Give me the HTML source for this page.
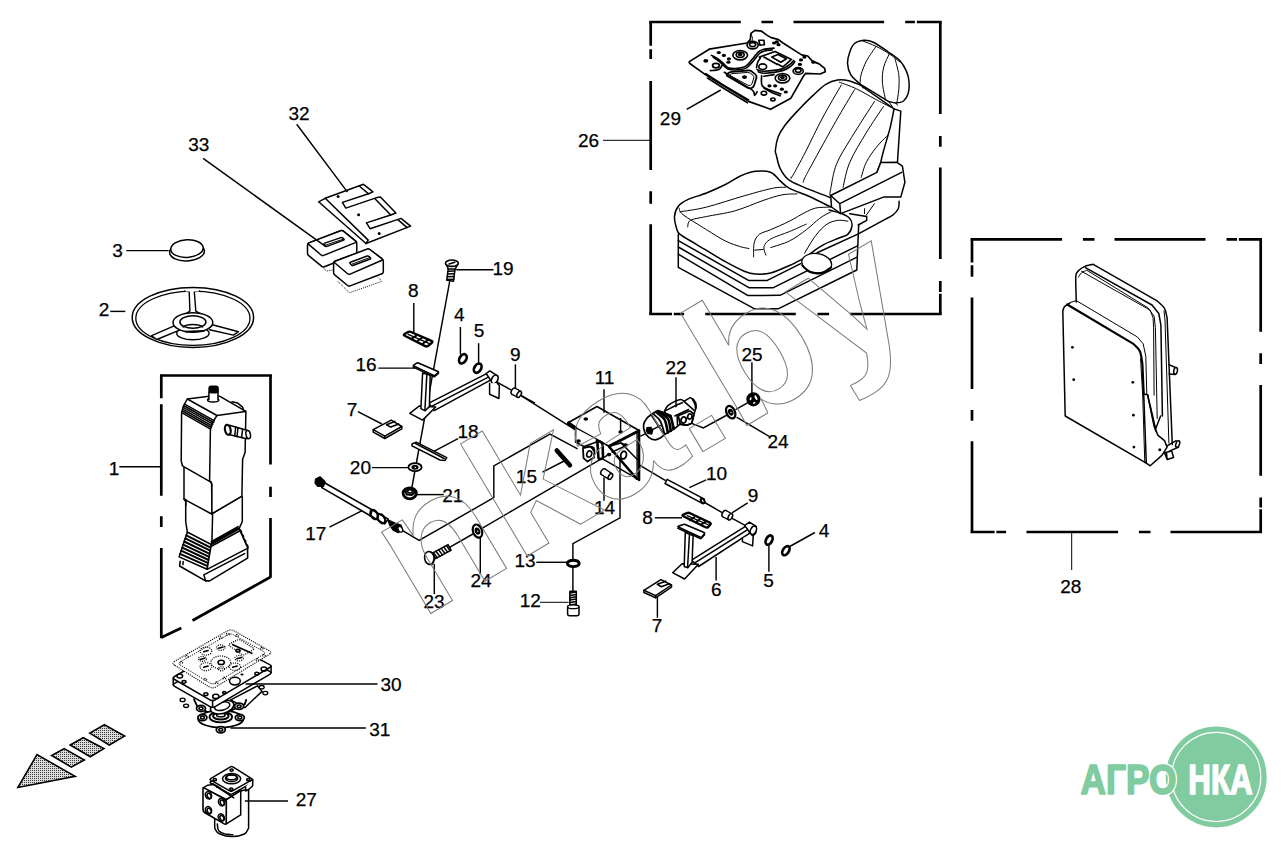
<!DOCTYPE html>
<html><head><meta charset="utf-8"><title>Parts diagram</title>
<style>
html,body{margin:0;padding:0;background:#fff;}
svg{display:block;}
.t{font-family:"Liberation Sans",Arial,Helvetica,sans-serif;font-size:19px;fill:#000;stroke:#000;stroke-width:0.25;}
.k{stroke:#000;fill:none;stroke-width:1.5;stroke-linecap:round;stroke-linejoin:round;}
.kf{stroke:#000;fill:#fff;stroke-width:1.5;stroke-linecap:round;stroke-linejoin:round;}
.l{stroke:#000;fill:none;stroke-width:1.45;}
.b{stroke:#000;fill:none;stroke-width:2.7;}
.lt{stroke:#000;fill:none;stroke-width:1;}
.hv .k,.hv .kf{stroke-width:1.65;}
.th{stroke:#000;fill:none;stroke-width:1.0;stroke-linecap:round;stroke-linejoin:round;}
</style></head>
<body>
<svg width="1287" height="849" viewBox="0 0 1287 849">
<rect width="1287" height="849" fill="#fff"/>
<!-- 10_boxes.svg -->
<g class="b">
<!-- box 26 -->
<path d="M649.4 22.0H740.8M761.5 22.0H773.1M793.5 22.0H884.1M905.2 22.0H914.9M916.8 22.0H941.6"/>
<path d="M650.7 21.2V45.8M650.7 49.2V59.1M650.7 80.9V170.1M650.7 191.2V203.8M650.7 224.2V314.8"/>
<path d="M940.3 21.2V114.1M940.3 135.9V146.8M940.3 167.5V259.1M940.3 280.9V291.9M940.3 293.8V314.8"/>
<path d="M649.4 314.0H672.0M673.8 314.0H684.1M705.2 314.0H795.8M817.5 314.0H829.1M849.9 314.0H941.6"/>
<!-- box 28 -->
<path d="M970.7 239.3H1062.1M1082.9 239.3H1094.5M1114.5 239.3H1205.5M1226.5 239.3H1237.0M1238.8 239.3H1262"/>
<path d="M972.0 238.5V262.5M972.0 265.2V276.8M972.0 297.5V389.1M972.0 409.9V420.8M972.0 441.2V532.8"/>
<path d="M1260.7 238.5V331.8M1260.7 353.2V364.1M1260.7 384.9V475.8M1260.7 497.5V507.4M1260.7 509.2V532.8"/>
<path d="M970.7 532.0H994.6M996.4 532.0H1006.1M1026.5 532.0H1118.1M1138.9 532.0H1150.5M1170.5 532.0H1262"/>
<!-- box 1 -->
<path d="M160 375.5H271.8"/>
<path d="M161.3 374.7V398.3M161.3 404.2V495.8M161.3 516.2V527.1M161.3 548.0V638.3"/>
<path d="M270.5 374.7V464.6M270.5 486.7V497.1M270.5 518.0V577.8"/>
<path d="M161.3 637.5L181.3 628M192.5 620.5L270.5 577"/>
</g>

<!-- 20_seat.svg -->
<g>
<path class="kf" d="M860.1 84.1C858.6 82.5 852.8 78.1 850.7 74.6C848.6 71.2 847.7 67.1 847.5 63.3C847.4 59.6 848.6 55.3 849.8 52C850.9 48.7 852.1 45.5 854.5 43.5C856.8 41.6 860.8 40.6 863.9 40.3C867 40.1 869.2 40.3 873.3 42.2C877.4 44.2 884 49 888.4 52C892.8 55.1 896.7 57.4 899.7 60.5C902.7 63.6 904.7 67.3 906.3 70.9C907.9 74.5 908.8 78.4 909.1 82.2C909.4 85.9 909.1 90.3 908.2 93.5C907.2 96.6 905.5 99.4 903.5 101C901.4 102.6 898.4 102.8 895.9 102.9C893.4 103 889.7 101.6 888.4 101.4L860.1 84.1"/>
<path class="th" d="M876.1 46.4C874.6 48.7 869.2 55.8 866.7 60.5C864.2 65.2 862.2 70.9 861.1 74.6C860 78.4 860.3 81.7 860.1 83.1"/>
<path class="th" d="M889.3 53.9C888.4 56.1 884.8 62.4 883.7 67.1C882.5 71.8 882.1 76.7 882.4 82.2C882.7 87.7 885 97.1 885.6 100.1"/>
<path class="th" d="M895 58.6C895.6 61.3 898.1 69.5 898.8 74.6C899.4 79.8 899.1 85.1 898.8 89.7C898.4 94.4 897.2 100.4 896.9 102.5"/>
<path class="th" d="M863 41.1C865.2 42 871.8 44.2 876.1 46.4C880.5 48.5 885.4 51.3 889.3 53.9C893.3 56.5 898 60.5 899.7 61.8"/>
<path class="th" d="M862.4 85.4L863.1 88.2M865.4 87.1L865.8 89.3M889 101.8L892.5 107M895.9 103.1L897.4 105.2"/>
<path class="k" d="M830 197.5C825.6 195.7 810.5 190.1 803.6 187.1C796.7 184.1 792.5 182.7 788.5 179.6C784.6 176.4 782.1 172.3 780.1 168.3C778 164.2 777.1 158.1 776.3 155.1C775.5 152 775 153 775.4 150C775.7 146.9 776.6 140.9 778.2 136.8C779.8 132.7 781.5 129.9 784.8 125.5C788.1 121.1 793.3 115.5 798 110.4C802.7 105.4 808.3 99.8 813 95.4C817.7 91 822.1 86.6 826.2 84.1C830.3 81.5 833.8 80.5 837.5 79.9C841.3 79.3 845.1 79.8 848.8 80.7C852.6 81.5 858.3 84.3 860.1 85L894 108.9"/>
<path class="k" d="M894 108.9L900.8 111.1L897.5 161.7"/>
<path class="k" d="M894 108.9C893.4 112.1 891.8 120.9 890.1 127.9C888.3 134.9 885 145.2 883.5 151C881.9 156.8 881.1 160.6 880.7 162.5L876.9 172.4"/>
<path class="th" d="M888.4 134.5C886.3 136.7 879.7 143 876 147.7C872.3 152.4 868.6 157.6 866.2 162.5C863.7 167.5 862 174.9 861.2 177.4"/>
<path class="th" d="M841.3 85C838.2 90.5 828.4 106.8 822.5 118C816.5 129.1 810.5 142.1 805.5 151.9C800.5 161.6 794.7 172.2 792.3 176.4C790 180.5 791.5 176.7 791.4 176.7"/>
<path class="th" d="M854.5 89.7C851.3 95 841.9 110.7 835.6 121.7C829.4 132.7 821.8 146.5 816.8 155.6C811.8 164.8 807.8 171.9 805.5 176.4C803.2 180.8 803.6 181.4 803.2 182.4"/>
<path class="th" d="M874.4 101.5C870.5 107.6 857.6 127.4 851.3 137.8C845 148.2 839.9 155.7 836.5 164.2C833 172.7 831.8 183.7 830.7 188.9C829.6 194.1 830 194.4 829.9 195.5"/>
<path class="th" d="M883.5 106.5C880.6 110.9 871.8 123.5 866.2 132.9C860.5 142.2 853.5 153.5 849.7 162.5C845.8 171.6 844.2 183.1 843.1 187.2"/>
<path class="th" d="M839.4 82.2C842.2 83.3 850.4 85.9 856.4 88.8C862.3 91.6 869.6 96.1 875.2 99.1C880.9 102.2 887.8 105.7 890.3 107"/>
<path class="k" d="M780 180.7C778.4 179.3 774.7 173.8 770.6 172.2C766.5 170.7 760.5 170.7 755.5 171.3C750.5 171.9 745.5 173.8 740.4 176C735.4 178.2 731 181.7 725.4 184.5C719.7 187.3 712.8 190.5 706.5 193C700.2 195.5 692.4 197.4 687.7 199.6C683 201.8 680.5 203.3 678.3 206.2C676.1 209 674.8 212.9 674.5 216.5C674.2 220.1 675.4 224.8 676.4 227.8C677.3 230.8 676.7 231.6 680.1 234.4C683.6 237.2 689.6 240.2 697.1 244.8C704.6 249.3 717.5 257.3 725.4 261.7C733.2 266.1 739.2 269.1 744.2 271.2C749.2 273.2 751.1 273.7 755.5 274C759.9 274.3 764.9 274.4 770.6 273C776.2 271.6 783.8 268 789.4 265.5C795.1 263 802 259.2 804.5 258"/>
<path class="k" d="M780 180.7C781.6 182 784.4 185.6 789.4 188.3C794.4 190.9 803.2 193.6 810.1 196.7C817 199.9 827.4 205.4 830.9 207.1"/>
<path class="th" d="M680.1 211.8C684.5 211 695.8 209.8 706.5 207.1C717.2 204.4 733.2 198.9 744.2 195.8C755.2 192.7 765.5 189.7 772.5 188.3C779.4 186.8 783.4 187.5 785.6 187.3"/>
<path class="th" d="M687.7 226.9C688.1 225.8 687.4 222 690.5 220.3C693.6 218.6 699.1 218.1 706.5 216.5C713.9 214.9 725.4 213.5 734.8 210.9C744.2 208.2 755.2 203.2 763 200.5C770.9 197.8 776.2 196 781.9 194.9C787.5 193.8 794.4 194.1 796.9 193.9"/>
<path class="th" d="M679.2 208C679.8 209.1 678.4 211 683 214.6C687.5 218.2 699.5 225.3 706.5 229.7C713.6 234.1 719.7 238.2 725.4 241C731 243.8 736.5 245.4 740.4 246.7C744.4 247.9 747.5 248.2 748.9 248.5"/>
<path class="th" d="M754.6 250.1L763 249.5"/>
<path class="th" d="M753.6 257C753.7 254.7 753.2 246.7 754.2 242.9C755.1 239.1 756.5 236.6 759.3 234.4C762 232.2 765.5 231.9 770.6 229.7C775.6 227.5 783.8 224.1 789.4 221.2C795.1 218.4 800.1 214.9 804.5 212.8C808.9 210.6 811.7 209 815.8 208C819.9 207.1 826.8 207.3 829 207.1"/>
<path class="th" d="M765.9 255.1C765.5 253.7 763.2 249.3 764 246.7C764.8 244 766.3 241.6 770.6 239.1C774.8 236.6 783.4 234.1 789.4 231.6C795.4 229.1 803.5 225.3 806.4 224.1"/>
<path class="th" d="M770.6 247.6C773.7 246.5 783.4 244 789.4 241C795.4 238 801.3 233.5 806.4 229.7C811.4 225.9 815.5 221.4 819.6 218.4C823.6 215.4 829 212.9 830.9 211.8"/>
<path class="k" d="M829 209.9C831.2 210.6 838.7 212.3 842.2 213.7C845.6 215.1 848.1 216.4 849.7 218.4C851.3 220.4 852.3 223.3 852 225.9C851.6 228.6 850.1 232.4 847.8 234.4C845.6 236.5 842.5 236.5 838.4 238.2C834.3 239.9 827.7 242.4 823.3 244.8C818.9 247.1 815.2 250.1 812 252.3C808.9 254.5 805.7 257 804.5 258"/>
<path class="th" d="M804.5 253.3C806.4 250.3 812 240.2 815.8 235.4C819.6 230.5 823.3 226.6 827.1 224.1C830.9 221.5 834.9 220.8 838.4 220.3C841.8 219.8 846.2 221.1 847.8 221.2"/>
<path class="k" d="M678.3 234.4L678.3 267.4L754.6 308.8L778.1 308.8L856.8 270L858.7 224.6"/>
<path class="k" d="M678.3 240.6L748.9 280.6L766.8 280.6L800.7 263.6"/>
<path class="k" d="M678.3 247L748.9 287.7L773.4 287.7L857.4 245.8"/>
<path class="k" d="M678.3 254.2L748 295.6L780 295.3L857.1 257.2"/>
<path class="k" d="M849.7 213.7L866.7 216.5L866.7 220.3L858.2 225"/>
<ellipse class="kf" cx="816.7" cy="263.2" rx="15" ry="9.6" transform="rotate(8 816.7 263.2)" style="stroke-width:1.3"/>
<path class="k" d="M802.2 265.5C803.5 266.6 806.9 270.8 810.1 272.1C813.3 273.4 817.9 273.8 821.4 273C825 272.3 829.6 268.3 831.2 267.4" style="stroke-width:2"/>
<path class="kf" d="M880.7 162.5L896.6 162.2L902.4 166.1L904.9 182.3L900.8 197.1L883.5 197.1L840.6 213.6L831.5 207L830.7 195.5L876.9 172.4Z"/>
<path class="k" d="M830.7 195.5L839.8 203.7L840.6 213.6M839.8 203.7L901.6 172.4"/>
<path class="k" d="M899.1 201.3C899 202.5 899.4 206.3 898.3 208.7C897.2 211 894.6 213.6 892.5 215.3C890.5 217 887.1 218.3 886 218.9L858.4 233.9L817.1 252.8"/>
<path class="th" d="M864.5 208.7L864.5 213.6M874.4 203.7L866.2 215.3"/>
</g>

<!-- 21_plate29.svg -->
<g class="hv">
<path class="kf" d="M689.3 61.6L709.2 49.2L747 43L750.3 39.6L750.9 33.4L754.9 30.4L761.6 31.2L766.1 34.6L770.6 37.4L778.5 39.6L783 43L801.6 54.9L807.8 56L812.3 61.1L819.1 63.9L824.7 68.4L825.3 71.8L820.2 74L805.5 73.4L803.3 76.3L790.9 98.2L770.6 109.3L749.2 101.6L705.3 74.6L689.5 63.3Z" style="stroke-width:1.7"/>
<path class="k" d="M705.8 73.7L724.4 85.8L748.7 99.9M707.5 78L724.4 88.7L747.5 102.7"/>
<ellipse class="k" cx="740.2" cy="55.2" rx="7.3" ry="4.7"/>
<ellipse class="k" cx="740.2" cy="54.7" rx="4" ry="2.6"/>
<ellipse class="k" cx="740.2" cy="54.5" rx="1.6" ry="0.9"/>
<ellipse class="k" cx="782.5" cy="78.2" rx="7.3" ry="4.7"/>
<ellipse class="k" cx="782.5" cy="77.7" rx="4" ry="2.6"/>
<ellipse class="k" cx="782.5" cy="77.5" rx="1.6" ry="0.9"/>
<ellipse class="k" cx="752.6" cy="45.1" rx="5.6" ry="3.7"/>
<ellipse class="k" cx="752.6" cy="44.6" rx="3.1" ry="2"/>
<ellipse class="k" cx="798.2" cy="71" rx="5.1" ry="3.4"/>
<ellipse class="k" cx="798.2" cy="70.5" rx="2.8" ry="1.9"/>
<ellipse class="k" cx="762.7" cy="66.7" rx="3.9" ry="2.8"/>
<ellipse class="k" cx="763.9" cy="93.2" rx="2.7" ry="1.9"/>
<ellipse class="k" cx="772.9" cy="99.4" rx="2.1" ry="1.4"/>
<ellipse class="k" cx="716" cy="65.6" rx="3.4" ry="2.3" style="stroke-width:1.8"/>
<ellipse cx="705.8" cy="60.8" rx="2.5" ry="1.9" fill="#000"/>
<ellipse cx="744.5" cy="77.1" rx="2.5" ry="1.9" fill="#000"/>
<ellipse cx="718.8" cy="52.6" rx="2.1" ry="1.6" fill="#000"/>
<ellipse cx="723.9" cy="55.4" rx="2.1" ry="1.6" fill="#000"/>
<ellipse cx="728.9" cy="58.8" rx="2.1" ry="1.6" fill="#000"/>
<ellipse cx="728.4" cy="62.2" rx="2.1" ry="1.6" fill="#000"/>
<ellipse cx="776.8" cy="41.9" rx="2.1" ry="1.6" fill="#000"/>
<ellipse cx="778.5" cy="44.7" rx="2.1" ry="1.6" fill="#000"/>
<ellipse cx="804.4" cy="57.1" rx="2.1" ry="1.6" fill="#000"/>
<ellipse cx="801" cy="59.9" rx="2.1" ry="1.6" fill="#000"/>
<ellipse cx="813.4" cy="62.2" rx="2.1" ry="1.6" fill="#000"/>
<ellipse cx="769.5" cy="85.8" rx="2.1" ry="1.6" fill="#000"/>
<ellipse cx="775.1" cy="85.8" rx="2.1" ry="1.6" fill="#000"/>
<ellipse cx="781.9" cy="89.2" rx="2.1" ry="1.6" fill="#000"/>
<ellipse cx="785.8" cy="92" rx="2.1" ry="1.6" fill="#000"/>
<ellipse cx="799.9" cy="64.4" rx="2.1" ry="1.6" fill="#000"/>
<ellipse cx="774" cy="43" rx="2.1" ry="1.6" fill="#000"/>
<path class="k" d="M758.8 40.2L763.9 40.2L764.4 44.7L759.9 45.1Z"/>
<path class="k" d="M727.7 76.3Q725.8 75.2 727.5 73.8L727.8 73.5Q729.5 72.1 731.7 71.9L747.9 70.5Q750.1 70.3 751.9 71.6L755.4 74.4Q757.1 75.7 756.4 77.8L754.2 85.1Q753.5 87.2 751.5 88L751.5 88Q749.4 88.8 747.5 87.7Z" style="stroke-width:1.8"/>
<path class="th" d="M731.1 76.1Q729.5 75.2 730.3 74.5L730.3 74.5Q731.2 73.7 733 73.5L747.4 72.5Q749.2 72.3 750.6 73.4L752.9 75.2Q754.3 76.3 753.8 78L752.2 83Q751.7 84.7 750.5 85.3L750.5 85.3Q749.2 85.8 747.6 85Z"/>
<path class="k" d="M759.4 57.1L775.1 51.5L791.5 59.4L783 66.9L777.4 63.9"/>
<path class="k" d="M771.8 57.1L777.9 54.5L786.4 58.8L780.8 62.2Z" style="stroke-width:1.6"/>
<path class="k" d="M763.9 57.1L777.4 64.4"/>
<path class="k" d="M711.5 55.4C712.5 56 715.7 57.5 717.7 58.8C719.6 60.1 721.6 61.8 723.3 63.3C725 64.8 725.6 66.7 727.8 67.6C730.1 68.4 733.8 68.6 736.8 68.4C739.8 68.1 743.2 67.7 745.8 66.1C748.5 64.5 750.5 61.1 752.6 58.8C754.7 56.5 756.4 53.6 758.2 52C760.1 50.4 761.2 49.9 763.9 49.2C766.5 48.6 772.3 48.3 774 48.1"/>
<path class="k" d="M713.2 57.1C714.1 57.8 717 59.6 718.8 61.1C720.6 62.5 722.3 64.4 723.9 65.8C725.5 67.1 726 68.5 728.4 69.2C730.7 69.8 734.9 70.1 738 69.8C741.1 69.6 744.3 69.2 747 67.6C749.6 66 751.8 62.5 753.9 60.2C756.1 57.8 757.7 54.9 759.6 53.4C761.4 51.9 762.9 51.5 765 50.9C767.1 50.3 771.1 50.2 772.3 50"/>
<path class="k" d="M710.3 70.6C711.8 70.4 716.7 70.5 718.8 69.5C720.9 68.5 722.1 65.3 722.7 64.4" style="stroke-width:1.6"/>
<path class="k" d="M757.1 69.5C758.2 69.8 759.7 71.3 763.9 71.2C768 71.1 777.6 70.1 781.9 68.9C786.2 67.8 787.8 65.8 789.8 64.4C791.7 63 793.1 61.1 793.7 60.5"/>
<path class="k" d="M756.5 67.8C756.7 66.9 757 63.9 757.7 62.2C758.3 60.5 760 58.4 760.5 57.7"/>
<path class="k" d="M758.2 71.8C759.4 72 761 73.4 765 73.2C769 73 778.1 71.8 782.5 70.6C786.8 69.4 788.8 67.6 790.9 66.1C793 64.6 794.2 62.4 794.8 61.6"/>
<path class="k" d="M761.6 75.7C761.7 77.4 760.7 83.4 762.2 85.8C763.7 88.3 767.5 89 770.6 90.3C773.7 91.7 779.1 93.3 780.8 93.9"/>
<path class="k" d="M763.9 76.3L774 74.6"/>
<path class="k" d="M763.9 88.1C765.2 88.8 769 91.1 771.8 92.4C774.5 93.6 778.8 95.2 780.2 95.8"/>
<path class="k" d="M724.4 72.3C726.9 73.9 734.4 78.9 739.1 81.9C743.8 84.9 750 88.1 752.6 90.3C755.2 92.6 753.9 95.2 754.6 95.4C755.4 95.6 756.7 92.3 757.1 91.7"/>
<path class="th" d="M750.9 34C751.2 34.8 752.5 37.2 752.6 38.5C752.7 39.8 751.7 41.3 751.5 41.9"/>
</g>

<!-- 22_back28.svg -->
<g>
<path class="kf" d="M1076.3 301.9C1076.2 298.8 1075.5 279.6 1075.8 275.9C1076.1 272.2 1077.8 271.4 1078.9 270.2C1080 269.1 1083.7 266.8 1085.4 266.1C1087 265.4 1092.3 264.5 1093.2 264.3L1156.7 300.6C1158 301.9 1162.8 305.5 1164.5 308.4C1166.2 311.2 1166.6 316.3 1167.1 317.9L1172.3 444.5"/>
<path class="th" d="M1078.4 277.2C1078.9 276.5 1080.1 274 1081.5 272.8C1082.9 271.7 1085.8 270.7 1086.7 270.2L1147.6 307.6L1154.1 316.1L1155.4 327.8L1157.2 418.6"/>
<path class="k" d="M1085.4 267.6L1152 305L1158.8 313.5L1160.9 325.2L1162.4 416"/>
<path class="th" d="M1081.5 271.3L1150.2 310.2L1153.1 317.9L1153.6 327.8L1154.1 395.2"/>
<path class="th" d="M1164 310.9L1165 320L1168.9 443.2"/>
<path class="kf" d="M1143.7 393.9L1146.3 463.2L1065.2 416L1062.8 310.9C1063.1 310.2 1063.5 307.8 1064.6 306.5C1065.8 305.2 1069 303.7 1069.8 303.2"/>
<path class="k" d="M1067.2 304.5L1133.4 343.9C1134.4 345.1 1138.3 347.8 1139.8 351.1C1141.4 354.5 1142 361.9 1142.4 364.1L1143.7 393.9" style="stroke-width:2.2"/>
<path class="th" d="M1069.8 302.6L1076.3 300.6L1137.3 336.9L1143.2 343.9L1145.8 356.3L1146.8 393.9"/>
<path class="th" d="M1140.6 358.9L1142.7 395.2L1144.8 462.7"/>
<path class="k" d="M1143.7 393.9L1147.6 394.7L1154.1 426.3L1158 435.4L1164.5 440.6L1167.1 447.1L1161.9 455.4L1150.2 465.8L1146.3 463.2"/>
<path class="k" d="M1147.6 394.7L1155.4 429.5L1160.6 416M1150.2 405.6L1156.2 431.5"/>
<path class="k" d="M1168.9 364.6L1174.9 367.2M1169.1 374L1175.4 374.5"/>
<ellipse class="k" cx="1175.6" cy="370.9" rx="1.8" ry="3.4" transform="rotate(10 1175.6 370.9)"/>
<path class="k" d="M1167.1 445.8L1176.2 440.6M1169.7 451L1178.7 447.1"/>
<ellipse class="k" cx="1177.7" cy="444" rx="1.8" ry="3.4" transform="rotate(20 1177.7 444)"/>
<path class="k" d="M1164.5 452.8L1171.7 451L1173.6 457.5L1167.1 459.5ZM1167.1 459.5L1166.6 453.6"/>
<circle cx="1072.4" cy="347.3" r="1.4" fill="#000"/>
<circle cx="1073.7" cy="379.7" r="1.4" fill="#000"/>
<circle cx="1132.8" cy="382.3" r="1.4" fill="#000"/>
<circle cx="1133.4" cy="415.2" r="1.4" fill="#000"/>
<circle cx="1133.9" cy="447.1" r="1.4" fill="#000"/>
<circle cx="1159.8" cy="449.7" r="1.5" fill="#000"/>
</g>

<!-- 23_col1.svg -->
<g>
<path class="kf" d="M185.7 499.2L185.7 521.5L187.3 532.2L211.3 544.6L239.3 528.1L242.3 521.5L242.3 496.7"/>
<path class="k" d="M212.6 514.5L211.9 543.2"/>
<path class="kf" d="M187.3 532.2L211.3 544.6L207.1 569.3L179.1 556.9Z"/>
<path class="k" d="M186.3 535.3L210.7 547.6" style="stroke-width:2.0"/>
<path class="k" d="M185.3 538.4L210.2 550.7" style="stroke-width:2.0"/>
<path class="k" d="M184.2 541.5L209.7 553.8" style="stroke-width:2.0"/>
<path class="k" d="M183.2 544.6L209.2 556.9" style="stroke-width:2.0"/>
<path class="k" d="M182.2 547.6L208.7 560" style="stroke-width:2.0"/>
<path class="k" d="M181.1 550.7L208.2 563.1" style="stroke-width:2.0"/>
<path class="k" d="M180.1 553.8L207.6 566.2" style="stroke-width:2.0"/>
<path class="kf" d="M211.3 544.6L239.3 528.9L247.9 548.2L207.1 569.3Z"/>
<path class="k" d="M211.3 541.6L238 526.7M211.3 543.2L239 528.1M210.9 546.5L240 530.7" style="stroke-width:1.6"/>
<path class="k" d="M239.3 528.9L241.4 531.3L241.5 533.7L243.5 536.1L243.6 538.5L245.7 540.9L245.7 543.4L247.8 545.8L247.9 548.2"/>
<path class="k" d="M180.2 561.4L179.6 566L205.5 580.9L209.6 580.9L247.6 558.1L247.6 549.5" style="stroke-width:1.6"/>
<path class="k" d="M203.8 574.6L205.5 580.5M204.3 574.6L244.6 553.6M183.2 561.4L182.9 564.7"/>
<path class="k" d="M184 467.5L184 499.1L185.8 501.6L185.8 505.4"/>
<path class="k" d="M184 499.1L211.6 514L241.9 496.2"/>
<path class="k" d="M211.6 485.6L212.1 514"/>
<path class="kf" d="M187.3 399L207.1 396.5L219.5 396.2L245.9 411.4L245.1 452.6L242.6 459.2L241.9 496.2L211.9 513.7L211.9 485.6L211.3 482.3L182.4 465.8L181.2 460.9L181.6 413L183.2 406.4Z"/>
<path class="k" d="M187.3 399L217 415.5L245.6 411.4"/>
<path class="k" d="M217 415.5L212.1 422.9L210.4 429.5L209.6 480.7L211.3 482.3L211.9 485.6"/>
<path class="k" d="M185.1 404.3L214.5 420.8" style="stroke-width:1.5"/>
<path class="k" d="M184.4 406L213.7 422.5" style="stroke-width:1.5"/>
<path class="k" d="M183.7 407.7L212.9 424.2" style="stroke-width:1.5"/>
<path class="k" d="M183.1 409.4L212.1 425.9" style="stroke-width:1.5"/>
<path class="k" d="M182.4 411L211.4 427.5" style="stroke-width:1.5"/>
<path class="k" d="M181.7 412.6L210.6 429.1" style="stroke-width:1.5"/>
<path class="k" d="M231.9 401.8L237.7 403.1L242.6 407.2L243.4 410"/>
<ellipse class="kf" cx="213.2" cy="400.1" rx="5.6" ry="2"/>
<path class="kf" d="M208.9 399.5L208.9 391.9L218 391.9L218 399.5"/>
<rect x="208.3" y="385.6" width="10.6" height="8" rx="3" fill="#000"/>
<path class="kf" d="M229.4 425.2L247.6 430.5L248.9 434.5L246.9 438.7L228.7 434.5Z"/>
<ellipse class="kf" cx="227.8" cy="429.8" rx="2.8" ry="5" transform="rotate(-12 227.8 429.8)" style="stroke-width:2.2"/>
<ellipse class="kf" cx="248.2" cy="434.6" rx="2.2" ry="4.1" transform="rotate(-12 248.2 434.6)"/>
<path class="k" d="M235.7 427L234.7 436.1M238 427.9L237 436.8M242.6 429.2L241.6 437.8"/>
</g>

<!-- 24_p30.svg -->
<g>
<path class="kf" d="M230.7 699.9L257.5 685.8L262 691.4L244.8 707.7Z"/>
<path class="k" d="M193.9 699.2L198.2 708.4L216.5 715.4L226.4 712.6L244.8 704.1L246.2 699.9" style="stroke-width:1.8"/>
<ellipse class="kf" cx="220.8" cy="719" rx="22.6" ry="8.5" style="stroke-width:1.8"/>
<ellipse class="kf" cx="202.4" cy="717.6" rx="4.5" ry="3.1" style="stroke-width:1.8"/>
<ellipse class="k" cx="202.4" cy="717.6" rx="2" ry="1.3"/>
<ellipse class="kf" cx="239.8" cy="717.6" rx="4.5" ry="3.1" style="stroke-width:1.8"/>
<ellipse class="k" cx="239.8" cy="717.6" rx="2" ry="1.3"/>
<ellipse class="kf" cx="220.8" cy="729.8" rx="4.5" ry="3.1" style="stroke-width:1.8"/>
<ellipse class="k" cx="220.8" cy="729.8" rx="2" ry="1.3"/>
<ellipse class="kf" cx="239.1" cy="706.2" rx="4.5" ry="3.1" style="stroke-width:1.8"/>
<ellipse class="k" cx="239.1" cy="706.2" rx="2" ry="1.3"/>
<ellipse class="kf" cx="201" cy="708.4" rx="4.5" ry="3.1" style="stroke-width:1.8"/>
<ellipse class="k" cx="201" cy="708.4" rx="2" ry="1.3"/>
<ellipse class="kf" cx="220.8" cy="717" rx="11.3" ry="5.4" style="stroke-width:1.8"/>
<ellipse class="k" cx="220.8" cy="716" rx="7.8" ry="3.5" style="stroke-width:2"/>
<ellipse class="k" cx="220.8" cy="715" rx="4.2" ry="1.8" style="stroke-width:1.6"/>
<ellipse class="kf" cx="222.2" cy="707" rx="12" ry="6.4" transform="rotate(-15 222.2 707)" style="stroke-width:1.6"/>
<ellipse class="k" cx="222.2" cy="706.2" rx="7.8" ry="4" transform="rotate(-15 222.2 706.2)"/>
<path class="kf" d="M174.6 686.3Q172 684.8 174.6 683.3L228.1 652.4Q230.7 650.9 233.3 652.3L269.7 671.4Q272.3 672.8 269.8 674.3L215.1 706.6Q212.6 708.1 210 706.6Z" style="stroke-width:1.5"/>
<path class="kf" d="M174.6 679.5Q172 678 174.6 676.5L228.1 645.6Q230.7 644.1 233.3 645.5L269.7 664.6Q272.3 666 269.8 667.5L215.1 699.8Q212.6 701.3 210 699.8Z" style="stroke-width:1.5"/>
<path class="k" d="M173.2 678L173.2 684.8"/>
<path class="k" d="M271.1 666L271.1 672.8"/>
<path class="k" d="M212.6 700.3L212.6 707.1"/>
<ellipse class="k" cx="179.8" cy="675.9" rx="2.8" ry="2"/>
<ellipse class="k" cx="184" cy="681.8" rx="2" ry="1.4"/>
<ellipse class="k" cx="205.9" cy="694.2" rx="2" ry="1.4"/>
<ellipse class="k" cx="215.8" cy="696.4" rx="3.1" ry="2.1"/>
<ellipse class="k" cx="224.3" cy="692.5" rx="1.7" ry="1.1"/>
<ellipse class="k" cx="234.9" cy="681.1" rx="5.4" ry="3.8"/>
<ellipse class="k" cx="256.8" cy="673.7" rx="2" ry="1.4"/>
<ellipse class="k" cx="263.9" cy="669.1" rx="2.8" ry="2.1"/>
<ellipse cx="242" cy="674.5" rx="1.6" ry="1" fill="#000"/>
<ellipse class="kf" cx="182.6" cy="699.9" rx="2.5" ry="1.7" style="stroke-width:1.3"/>
<ellipse class="kf" cx="186.1" cy="705.8" rx="2.5" ry="1.7" style="stroke-width:1.3"/>
<ellipse class="kf" cx="261.7" cy="687.2" rx="2.5" ry="1.7" style="stroke-width:1.3"/>
<ellipse class="kf" cx="265.3" cy="693.1" rx="2.5" ry="1.7" style="stroke-width:1.3"/>
<path d="M174.7 665.3Q171.3 663.2 174.8 661.2L227.2 631Q230.7 629 234.1 630.9L268.9 650.6Q272.3 652.6 268.9 654.6L216 686.8Q212.6 688.9 209.2 686.8Z" fill="#fff" stroke="#000" stroke-width="1.15" stroke-dasharray="1.1 1.1"/>
<path d="M180.2 665Q177.7 663.4 180.3 661.9L228 634.7Q230.7 633.2 233.3 634.7L263.4 651.4Q266 652.8 263.4 654.4L215.1 683.1Q212.6 684.6 210 683.1Z" fill="none" stroke="#000" stroke-width="1" stroke-dasharray="1.1 1.1"/>
<ellipse cx="205.9" cy="651.1" rx="5.9" ry="4" fill="none" stroke="#000" stroke-width="1.15" stroke-dasharray="1.1 1.1"/>
<ellipse cx="220.8" cy="647.6" rx="4.2" ry="2.8" fill="none" stroke="#000" stroke-width="1.15" stroke-dasharray="1.1 1.1"/>
<ellipse cx="202.4" cy="658.9" rx="4" ry="2.5" fill="none" stroke="#000" stroke-width="1.15" stroke-dasharray="1.1 1.1"/>
<ellipse cx="220.8" cy="662.4" rx="9.9" ry="6.4" fill="none" stroke="#000" stroke-width="1.15" stroke-dasharray="1.1 1.1"/>
<ellipse cx="205.9" cy="666.7" rx="5.9" ry="4" fill="none" stroke="#000" stroke-width="1.15" stroke-dasharray="1.1 1.1"/>
<ellipse cx="234.9" cy="666.7" rx="5.7" ry="3.7" fill="none" stroke="#000" stroke-width="1.15" stroke-dasharray="1.1 1.1"/>
<ellipse cx="239.1" cy="658.2" rx="4.2" ry="2.8" fill="none" stroke="#000" stroke-width="1.15" stroke-dasharray="1.1 1.1"/>
<ellipse cx="221.5" cy="668.8" rx="3.1" ry="2.1" fill="none" stroke="#000" stroke-width="1.15" stroke-dasharray="1.1 1.1"/>
<ellipse cx="181.2" cy="662.4" rx="1.4" ry="1" fill="none" stroke="#000" stroke-width="1.15" stroke-dasharray="1.1 1.1"/>
<ellipse cx="186.8" cy="656.4" rx="1.4" ry="1" fill="none" stroke="#000" stroke-width="1.15" stroke-dasharray="1.1 1.1"/>
<ellipse cx="227.8" cy="634.2" rx="1.7" ry="1.1" fill="none" stroke="#000" stroke-width="1.15" stroke-dasharray="1.1 1.1"/>
<ellipse cx="220.8" cy="637.7" rx="1.4" ry="1" fill="none" stroke="#000" stroke-width="1.15" stroke-dasharray="1.1 1.1"/>
<ellipse cx="237" cy="635.6" rx="1.4" ry="1" fill="none" stroke="#000" stroke-width="1.15" stroke-dasharray="1.1 1.1"/>
<ellipse cx="261.7" cy="648.3" rx="1.4" ry="1" fill="none" stroke="#000" stroke-width="1.15" stroke-dasharray="1.1 1.1"/>
<ellipse cx="263.9" cy="655.4" rx="1.4" ry="1" fill="none" stroke="#000" stroke-width="1.15" stroke-dasharray="1.1 1.1"/>
<ellipse cx="257.5" cy="659.6" rx="1.4" ry="1" fill="none" stroke="#000" stroke-width="1.15" stroke-dasharray="1.1 1.1"/>
<ellipse cx="205.2" cy="679.4" rx="1.4" ry="1" fill="none" stroke="#000" stroke-width="1.15" stroke-dasharray="1.1 1.1"/>
<ellipse cx="216.5" cy="682.9" rx="1.4" ry="1" fill="none" stroke="#000" stroke-width="1.15" stroke-dasharray="1.1 1.1"/>
<ellipse cx="224.3" cy="678" rx="1.4" ry="1" fill="none" stroke="#000" stroke-width="1.15" stroke-dasharray="1.1 1.1"/>
<ellipse class="k" cx="221.2" cy="662.4" rx="3.1" ry="2.1" style="stroke-width:1.5"/>
<path d="M229.5 645.9Q227.8 644.8 229.6 643.9L237.3 640Q239.1 639.1 240.8 640.2L253 647.9Q254.7 649 252.9 650L245.1 654.4Q243.4 655.4 241.7 654.3Z" fill="none" stroke="#000" stroke-width="1.15" stroke-dasharray="1.1 1.1"/>
<path class="k" d="M232.8 644.8L251.8 653.3" style="stroke-width:1.8"/>
<ellipse class="k" cx="238" cy="650.7" rx="2" ry="1.3" style="stroke-width:1.6"/>
<path class="k" d="M203.7 651.7L208.1 650.5" style="stroke-width:1.6"/>
<path class="k" d="M218.6 648.2L223 647" style="stroke-width:1.6"/>
<path class="k" d="M200.2 659.5L204.6 658.3" style="stroke-width:1.6"/>
<path class="k" d="M203.7 667.3L208.1 666.1" style="stroke-width:1.6"/>
<path class="k" d="M232.7 667.3L237.1 666.1" style="stroke-width:1.6"/>
<path class="k" d="M236.9 658.8L241.3 657.6" style="stroke-width:1.6"/>
</g>

<!-- 25_p27.svg -->
<g>
<path class="kf" d="M248.6 788.9L248.6 828.1C247.9 829.1 247.2 832.6 244.4 834C241.5 835.4 235.7 836.6 231.6 836.6C227.6 836.6 222.7 835.2 220 834C217.2 832.7 216.1 831.4 215.2 829.2C214.3 827 214.8 822.1 214.7 820.7L214.7 797.4Z"/>
<path class="k" d="M217.3 823.9C217.6 825.1 217.4 829.1 218.7 830.8C220 832.5 223 833.3 225.3 834C227.6 834.6 231.5 834.6 232.7 834.7"/>
<path class="kf" d="M226.3 799.5L240.7 790L240.7 814.9L226.3 823.9Z"/>
<path class="kf" d="M203 787.9L207.8 785.2L220 783.6L240.7 790.5L226.3 799.5Z"/>
<path class="k" d="M216.3 786.3L233.8 797.9"/>
<path class="kf" d="M203 789.5Q203 787.3 205 788.4L224.4 799Q226.3 800.1 226.3 802.3L226.2 822.8Q226.1 825 224.2 823.9L204.9 812.8Q203 811.7 203 809.5Z" style="stroke-width:1.6"/>
<ellipse class="k" cx="208.5" cy="795.3" rx="3" ry="3.8" transform="rotate(-25 208.5 795.3)" style="stroke-width:1.5"/>
<ellipse class="k" cx="209.1" cy="795.8" rx="1.8" ry="2.7" transform="rotate(-25 209.1 795.8)"/>
<ellipse class="k" cx="221.6" cy="802.2" rx="3" ry="3.8" transform="rotate(-25 221.6 802.2)" style="stroke-width:1.5"/>
<ellipse class="k" cx="222.2" cy="802.7" rx="1.8" ry="2.7" transform="rotate(-25 222.2 802.7)"/>
<ellipse class="k" cx="208.5" cy="810.3" rx="3" ry="3.8" transform="rotate(-25 208.5 810.3)" style="stroke-width:1.5"/>
<ellipse class="k" cx="209.1" cy="810.8" rx="1.8" ry="2.7" transform="rotate(-25 209.1 810.8)"/>
<ellipse class="k" cx="221.3" cy="817.5" rx="3" ry="3.8" transform="rotate(-25 221.3 817.5)" style="stroke-width:1.5"/>
<ellipse class="k" cx="221.9" cy="818" rx="1.8" ry="2.7" transform="rotate(-25 221.9 818)"/>
<path class="kf" d="M230.4 769.9Q231.6 769.1 232.9 769.9L251.6 781.6Q252.8 782.4 251.5 783.1L232.4 793.8Q231.1 794.5 229.8 793.8L210.7 783.1Q209.4 782.4 210.7 781.6Z"/>
<path class="kf" d="M252.8 779.6L252.6 786L248.6 789.5L245.6 791L245.6 786.8"/>
<path class="kf" d="M230.4 766.9Q231.6 766.1 232.9 766.9L251.6 778.6Q252.8 779.4 251.5 780.1L232.4 790.8Q231.1 791.6 229.8 790.8L210.7 780.1Q209.4 779.4 210.7 778.6Z" style="stroke-width:1.5"/>
<ellipse class="k" cx="231.6" cy="778.7" rx="9.1" ry="5.1" style="stroke-width:1.5"/>
<ellipse class="k" cx="231.6" cy="778.3" rx="6.1" ry="3.3" style="stroke-width:1.5"/>
<ellipse class="k" cx="231.6" cy="777.3" rx="5.1" ry="2.5"/>
<ellipse class="k" cx="231.6" cy="770.1" rx="1.6" ry="1.1"/>
<ellipse class="k" cx="214.9" cy="779.7" rx="1.6" ry="1.1"/>
<ellipse class="k" cx="248.2" cy="779.7" rx="1.6" ry="1.1"/>
<ellipse class="k" cx="231.2" cy="789.1" rx="1.6" ry="1.1"/>
<path class="k" d="M212.6 783.6L220 787.9M216.8 785.7L216.8 787.3"/>
</g>

<!-- 26_wheel.svg -->
<g>
<ellipse class="kf" cx="187" cy="251.8" rx="17.4" ry="9.1" transform="rotate(-3 187 251.8)"/>
<ellipse class="kf" cx="187" cy="248.6" rx="16.2" ry="8.8" transform="rotate(-3 187 248.6)"/>
<ellipse class="k" cx="192.9" cy="317.4" rx="60.7" ry="30" style="stroke-width:1.5"/>
<ellipse class="k" cx="192.9" cy="318.2" rx="57.1" ry="27.1" style="stroke-width:1.3"/>
<ellipse class="kf" cx="192.9" cy="333.2" rx="16.2" ry="6.6" style="stroke-width:1.4"/>
<path class="kf" d="M184.8 291L189.2 291.5L189.9 311.1L184.8 314.8L202.4 314.8L195.8 311.1L194.3 291.5L199.5 291" style="stroke-width:1.4"/>
<path class="kf" d="M175.9 325.1L151.7 335.7L156.8 339.5L178.9 330.3" style="stroke-width:1.4"/>
<path class="kf" d="M212.4 324.8L238.5 331.7L233.4 335.1L209.5 329.8" style="stroke-width:1.4"/>
<path class="k" d="M186 290.7L198.3 290.7" style="stroke:#fff;stroke-width:1.6"/>
<ellipse class="kf" cx="192.9" cy="322.5" rx="19.9" ry="9.7" style="stroke-width:1.5"/>
<ellipse class="k" cx="192.9" cy="322" rx="13" ry="6.2" style="stroke-width:1.5"/>
<path class="k" d="M183.2 326.9A10.3 3.5 0 0 1 202.6 326.9"/>
<path class="k" d="M186.1 331.7L204.1 330.9" style="stroke-width:1.8"/>
</g>

<!-- 27_p32.svg -->
<g>
<path class="kf" d="M318.6 201.8L325.2 198.3L363.5 184.3L373 191.9L368.6 193.8L342.4 202.4L345.8 208.1L377.4 197.4L380.4 197.1L395.9 213L390.7 215L366.4 222.9L370.1 228.7L401 218.4L410.6 226.1L366 243.5Z" style="stroke-width:1.5"/>
<path class="k" d="M325.2 198.3L368.2 240.1M359.8 186.5L368.6 193.8M375.2 199L390.7 215M398.1 219.9L407.2 227.6M366 243.5L368.2 240.1"/>
<circle cx="338.1" cy="196.6" r="1.5" fill="#000"/>
<circle cx="358.6" cy="214.8" r="1.5" fill="#000"/>
<circle cx="379.2" cy="233.5" r="1.5" fill="#000"/>
<path class="kf" d="M308.9 242.9Q307.5 243.5 307.5 245L307.5 253.3Q307.5 254.8 308.7 255.7L321.8 266.4Q323 267.3 324.4 266.8L355.4 254.3Q356.8 253.8 356.8 252.3L356.8 243.5Q356.8 242 355.7 241.1L343.3 231.1Q342.1 230.2 340.7 230.7Z" style="stroke-width:1.5"/>
<path class="kf" d="M308.7 244.4Q307.5 243.5 308.9 242.9L340.7 230.7Q342.1 230.2 343.3 231.1L355.7 241.1Q356.8 242 355.4 242.6L323.6 255.4Q322.2 256 321.1 255Z" style="stroke-width:1.5"/>
<path class="k" d="M324.3 244.3Q323.7 243.5 324.7 243.1L340.9 237.6Q341.8 237.3 342.6 237.9L343.9 239.1Q344.6 239.8 343.7 240.1L327.1 246.4Q326.2 246.7 325.6 245.9Z" style="stroke-width:1.5"/>
<path class="th" d="M326.2 244.9L342.9 239.3"/>
<path d="M323.7 268.5L326.7 271L332.5 270" fill="none" stroke="#000" stroke-width="1" stroke-dasharray="1 1.2"/>
<path d="M337.7 281.3L349.5 292.8L381.9 281.3L377.4 276.6" fill="none" stroke="#000" stroke-width="1" stroke-dasharray="1 1.2"/>
<path class="kf" d="M335 261.3Q333.6 261.9 333.6 263.4L333.6 272.4Q333.6 273.9 334.7 274.9L347.6 285.5Q348.7 286.5 350.1 285.9L381.9 273.7Q383.3 273.2 383.3 271.7L383.3 261.2Q383.3 259.7 382.1 258.8L369.8 249.5Q368.6 248.6 367.2 249.1Z" style="stroke-width:1.5"/>
<path class="kf" d="M334.7 262.8Q333.6 261.9 335 261.3L367.2 249.1Q368.6 248.6 369.8 249.5L382.1 258.8Q383.3 259.7 382 260.3L350.1 274.1Q348.7 274.7 347.6 273.7Z" style="stroke-width:1.5"/>
<path class="k" d="M350.1 263.4Q349.5 262.6 350.4 262.3L367.2 256Q368.2 255.7 368.9 256.4L370.4 257.9Q371.1 258.6 370.2 259L352.9 265.5Q352 265.8 351.4 265.1Z" style="stroke-width:1.5"/>
<path class="th" d="M352.1 264.1L369.4 257.7"/>
</g>

<!-- 30_center.svg -->
<g>
<path class="l" d="M449.7 281.4L411.6 489"/>
<path class="l" d="M497.9 382.6L535 403.2"/>
<path class="l" d="M521.4 395.9L575.4 429.8"/>
<path class="k" d="M568 423.5L576.5 429.8" style="stroke-width:2.2"/>
<path class="l" d="M402.6 530.6L419.1 540.3L493.8 497.7L493.8 465.9L550 434.1L577.6 448.9"/>
<path class="l" d="M449.5 547.4L472.9 534"/>
<path class="l" d="M482 528.3L607.3 455.3"/>
<path class="l" d="M572.9 591.3L572.9 543.6L620 517.9L620 454.2"/>
<path class="l" d="M639.1 464.8L665.6 480.7"/>
<path class="l" d="M703.8 502L723.9 513.6"/>
<path class="l" d="M731.3 517.9L745.1 525.3"/>
<path class="l" d="M638 436.2L641.1 435.9L645.7 433.6"/>
<path class="l" d="M691 423.1L703.4 427.9L727.1 415"/>
<path class="l" d="M735.6 409.7L748.3 402.3"/>
<path class="kf" d="M448.5 266.6L446.8 280.3L453.5 281.2L455.2 267.4Z"/>
<path class="k" d="M448.2 268.4L455.1 268.3M447.9 271.2L454.8 271M447.6 273.9L454.4 273.8M447.2 276.7L454.1 276.5M446.9 279.5L453.8 279.3" style="stroke-width:1.5"/>
<path class="kf" d="M445.5 263.2L448.5 269.1L455.2 269.1L458.2 263.2Z"/>
<ellipse class="kf" cx="451.9" cy="263.2" rx="6.4" ry="3.2" style="stroke-width:1.6"/>
<path class="k" d="M449.1 264L454.8 262.3"/>
<path class="kf" d="M404.7 335.7Q403.1 334.9 404.6 334L407.9 332.1Q409.4 331.2 411.1 332L431.5 340.9Q433.2 341.6 431.8 342.8L428.2 345.8Q426.8 346.9 425.2 346.1Z" style="stroke-width:2.4"/>
<path class="k" d="M411.8 338.6L416 335.8" style="stroke-width:2.0"/>
<path class="k" d="M417.4 341L421.6 338.2" style="stroke-width:2.0"/>
<path class="k" d="M423 343.5L427.2 340.7" style="stroke-width:2.0"/>
<path class="k" d="M408.2 334.4L430 343.8" style="stroke-width:1.3"/>
<ellipse class="kf" cx="462.9" cy="358.8" rx="3.3" ry="5" transform="rotate(32 462.9 358.8)" style="stroke-width:2.7"/>
<ellipse class="kf" cx="477.7" cy="368.2" rx="3.3" ry="5" transform="rotate(32 477.7 368.2)" style="stroke-width:2.7"/>
<ellipse class="kf" cx="513.4" cy="391.1" rx="1.9" ry="3.4" transform="rotate(29.1 513.4 391.1)"/>
<path class="kf" d="M511.7 394L517.4 397.2L520.7 391.3L515 388.1"/>
<path d="M512.1 393.4L517.8 396.6L520.4 391.9L514.7 388.7Z" fill="#fff" stroke="none"/>
<ellipse class="kf" cx="519.1" cy="394.3" rx="1.9" ry="3.4" transform="rotate(29.1 519.1 394.3)"/>
<path class="kf" d="M428.9 403.2L486.6 373.7L490.9 379.8L434.2 410.6Z"/>
<path class="k" d="M431.5 406.3L488.8 376.9"/>
<path class="kf" d="M486.2 373.5L489.8 370.9L497.9 376.2L497.2 382.6L493.9 385.1Z"/>
<ellipse class="kf" cx="494.7" cy="379.4" rx="3" ry="4.6" transform="rotate(25 494.7 379.4)" style="stroke-width:1.6"/>
<path class="kf" d="M489.6 383.2L489.6 394.3L498.9 398.5L499.4 385.8L497.2 383"/>
<path class="kf" d="M409.8 413.3L419.4 405.9L435.7 407L422.6 420.1Z"/>
<path class="kf" d="M422.6 373L420.9 408.7L425.1 410.8L429.4 406.6L430.2 375.2Z"/>
<path class="k" d="M426.8 375.2L424.9 410.2"/>
<path class="kf" d="M413.7 366Q412.8 365.6 413.7 365.1L416.6 363.2Q417.5 362.6 418.4 363L438 371.6Q438.9 372 438.2 372.6L435.2 375.1Q434.5 375.8 433.6 375.4Z" style="stroke-width:1.6"/>
<path class="k" d="M413.2 367.1L434.2 376.9L438.5 373.5"/>
<path class="kf" d="M373.2 429.7L373.2 432.1L384.8 438.5L401.8 428.9L401.8 426.5"/>
<path class="kf" d="M373.2 429.7L391.2 420.1L401.8 426.5L384.8 436.1Z"/>
<path class="k" d="M384.8 436.1L384.8 438.5"/>
<path class="k" d="M394.8 421.4L386.5 424.8L390.8 427.1L398.8 424" style="stroke-width:1.6"/>
<path class="kf" d="M643.9 590.3L643.9 592.5L655.6 597.8L671.5 587.2L671.5 585"/>
<path class="kf" d="M643.9 590.3L660.9 579.7L671.5 585L655.6 595.6Z"/>
<path class="k" d="M655.6 595.6L655.6 597.8"/>
<path class="k" d="M665.6 581.2L657.3 584.3L661.3 586.7L669.4 583.7" style="stroke-width:1.6"/>
<path class="kf" d="M412 443.9L416.2 442.2L446.8 457.7L445.1 460.4L440 460L412 445.8Z" style="stroke-width:1.5"/>
<path class="k" d="M415.6 443.5L444.2 458.5"/>
<ellipse class="kf" cx="415" cy="467.2" rx="6.6" ry="4" style="stroke-width:1.8"/>
<ellipse class="k" cx="415" cy="467.2" rx="2.8" ry="1.7" style="stroke-width:1.6;fill:#000"/>
<circle cx="415.3" cy="467.4" r="0.7" fill="#fff"/>
<ellipse class="kf" cx="409.7" cy="493.3" rx="6.6" ry="5.5" style="stroke-width:2.8"/>
<path class="k" d="M405.2 490.3L408.2 488.3L413.2 488.8L414.7 492.3L411.7 494.8L406.7 494.3Z" style="stroke-width:2.2"/>
<ellipse class="k" cx="410" cy="491.3" rx="2.4" ry="1.6"/>
<path class="kf" d="M324.5 482.8L372.3 510L370.3 515.7L321.8 487.6Z" style="stroke-width:1.6"/>
<path d="M315.5 479L320 476.8L325 481.5L323.5 486.5L318 486.5L315 483Z" fill="#000" stroke="#000" stroke-width="1.2" stroke-linejoin="round"/>
<path class="kf" d="M372.3 510L388.3 519.1L384.6 523.9L370.3 515.7Z" style="stroke-width:1.6"/>
<ellipse class="k" cx="374.1" cy="514.5" rx="3.2" ry="5" transform="rotate(-30 374.1 514.5)" style="stroke-width:2.2"/>
<ellipse class="k" cx="381.3" cy="518.7" rx="3.2" ry="5" transform="rotate(-30 381.3 518.7)" style="stroke-width:2.2"/>
<path d="M387.9 519.9L395.1 523.1L401.1 525.1L402.9 530.1L398.1 532.6L393.1 530.1L389.6 525.1Z" fill="#000" stroke="#000" stroke-width="1.2" stroke-linejoin="round"/>
<ellipse class="kf" cx="400.3" cy="529.3" rx="2" ry="3" transform="rotate(-30 400.3 529.3)" style="stroke-width:1.2"/>
<path class="kf" d="M435.6 558.7L451.1 550.2L448 544.6L432.5 553.1Z"/>
<path class="k" d="M437.3 557.7L433.4 552.6M439.9 556.3L435.9 551.2M442.5 554.9L438.5 549.8M445 553.5L441.1 548.4M447.6 552.1L443.7 547M450.2 550.7L446.3 545.5" style="stroke-width:1.5"/>
<ellipse class="kf" cx="429.4" cy="558" rx="4.8" ry="6.6" transform="rotate(-10 429.4 558)" style="stroke-width:1.6"/>
<path class="k" d="M429.8 551.6L433.2 553.1L434.5 558.6L431.9 564.4"/>
<ellipse class="kf" cx="477.5" cy="531.1" rx="4.5" ry="6.8" transform="rotate(-20 477.5 531.1)" style="stroke-width:2.2"/>
<ellipse class="k" cx="477.5" cy="531.1" rx="1.9" ry="2.9" transform="rotate(-20 477.5 531.1)" style="stroke-width:1.6;fill:#000"/>
<circle cx="477.8" cy="531.3" r="0.7" fill="#fff"/>
<path class="k" d="M556.8 450.4L569.9 465.3" style="stroke-width:4.6;stroke-linecap:round"/>
<path class="kf" d="M568.5 422.5L597 406.5L639.1 430.5L609 446.2L576 428Z" style="stroke-width:1.6"/>
<path class="k" d="M568.5 422.5L576 427.8" style="stroke-width:2.6"/>
<path class="kf" d="M575.7 428.5L575.5 442L584 446.5L596.5 442L596.5 439.5" style="stroke-width:1.5"/>
<path class="kf" d="M609 446.2L637.1 431.8L639.1 430.5L639.1 480.1L637.1 479.1Z" style="stroke-width:1.5"/>
<path class="k" d="M637.1 431.8L637.1 479.1" style="stroke-width:1.4"/>
<path class="k" d="M639.1 430.5L639.1 480.1" style="stroke-width:2.4"/>
<path class="k" d="M637.1 431.8L609 446.2" style="stroke-width:2.8"/>
<path class="k" d="M609 446.8L636.6 478.6" style="stroke-width:2.4"/>
<path class="k" d="M621.1 443L637.3 459.6"/>
<path class="k" d="M603 459.1L636.1 478.1"/>
<path class="k" d="M612.1 452.1L624.1 446.5"/>
<path class="k" d="M609 446.2L621.1 443L626.1 445.5"/>
<ellipse class="kf" cx="623.6" cy="455.1" rx="2.8" ry="3.9" transform="rotate(15 623.6 455.1)" style="stroke-width:1.8"/>
<ellipse cx="585.8" cy="419" rx="2.3" ry="1.8" fill="#000"/>
<ellipse cx="620.6" cy="432" rx="2.3" ry="1.8" fill="#000"/>
<ellipse cx="625.6" cy="445" rx="2.3" ry="1.8" fill="#000"/>
<ellipse cx="578.5" cy="441" rx="2.3" ry="1.8" fill="#000"/>
<ellipse cx="609" cy="454.6" rx="2.3" ry="1.8" fill="#000"/>
<path class="l" d="M620.6 418L620.6 432"/>
<path class="kf" d="M583 448L590 446.5L594.5 450.1L594 457.6L587.5 461.6L583.5 458.1Z" style="stroke-width:1.8"/>
<ellipse class="k" cx="589.2" cy="454.1" rx="2.4" ry="3.2" transform="rotate(20 589.2 454.1)" style="stroke-width:1.6"/>
<path class="k" d="M591.5 447L593.5 448L593.5 450.1" style="stroke-width:2.4"/>
<path class="kf" d="M597.4 442.5Q597.2 440.5 599.1 441.3L600.7 442Q602.5 442.8 602.6 444.8L603 456.6Q603 458.6 601.1 458.9L600.5 459Q598.5 459.3 598.4 457.3Z" style="stroke-width:2.6"/>
<ellipse class="kf" cx="603" cy="471.6" rx="1.8" ry="3.2" transform="rotate(33.3 603 471.6)"/>
<path class="kf" d="M601.3 474.3L608.7 479.2L612.2 473.8L604.8 468.9"/>
<path d="M601.6 473.7L609.1 478.6L611.8 474.4L604.4 469.5Z" fill="#fff" stroke="none"/>
<ellipse class="kf" cx="610.4" cy="476.5" rx="1.8" ry="3.2" transform="rotate(33.3 610.4 476.5)"/>
<path class="kf" d="M664.5 411C665 410.1 666.2 407.3 667.9 405.7C669.6 404.1 672.6 402.5 674.8 401.4C677 400.4 679.4 399.5 680.9 399.5C682.4 399.5 683.5 401.1 684 401.4L690.1 397.6L692.2 398.6L695.4 404.9L695.8 408.3L693.9 414.5L691.8 423.3L687 425.3L680.1 424.2L674 429Z" style="stroke-width:1.6"/>
<path class="k" d="M684 401.4L693.9 410.2" style="stroke-width:1.6"/>
<path class="k" d="M665.6 410.6L677.8 404.5L682.4 402.8"/>
<path class="k" d="M674.8 416L688.6 409.5"/>
<path class="k" d="M677.1 415.6L677.5 424.8"/>
<path class="k" d="M678.5 416.8Q678.2 415.6 679.3 415.2L689 411.3Q690.1 410.9 691 411.6L693.2 413.5Q694.1 414.2 693.8 415.4L692.1 422.1Q691.8 423.3 690.7 423.7L688.1 424.8Q687 425.3 685.8 425.1L681.3 424.4Q680.1 424.2 679.9 423Z" style="stroke-width:1.7"/>
<ellipse class="k" cx="683.6" cy="420" rx="2.5" ry="3.1" transform="rotate(20 683.6 420)" style="stroke-width:1.7"/>
<ellipse class="k" cx="689.8" cy="416.5" rx="2.1" ry="2.6" transform="rotate(20 689.8 416.5)" style="stroke-width:1.7"/>
<path class="k" d="M692.8 399.2C693.2 399.8 694.9 401.5 695.4 403C696 404.4 695.8 407.1 695.8 408" style="stroke-width:2.2"/>
<path class="kf" d="M651.4 414.5C650.6 415.2 647.8 416.9 646.5 418.7C645.2 420.4 643.9 422.6 643.6 424.8C643.3 427 643.7 429.6 644.6 431.7C645.4 433.8 647.1 436 648.8 437.4C650.5 438.8 652.9 439.9 654.9 439.9C656.9 440 659 438.7 660.6 437.8C662.2 436.9 663.8 435.1 664.5 434.6L658 415.6Z" style="stroke-width:1.7"/>
<path class="kf" d="M651.1 414.5L658 410.6L671 415.6L674.2 428.8L664.2 434.7Z" style="stroke-width:1.8"/>
<path class="k" d="M653 413.7C654.2 414.9 658.3 417.6 660.2 421C662.2 424.3 663.8 431.8 664.5 434" style="stroke-width:1.8"/>
<path class="k" d="M656 411.9C657.4 413.2 662.5 416 664.5 419.4C666.4 422.9 667.3 430.4 667.9 432.6" style="stroke-width:2.6"/>
<path class="k" d="M659.1 411.4C660.6 412.6 665.9 415.4 667.9 418.7C669.9 421.9 670.3 428.9 670.8 430.9" style="stroke-width:2.6"/>
<path class="k" d="M662.5 412.2C663.8 413.1 668.6 414.6 670.3 417.5C672.1 420.4 672.6 427.4 673.1 429.4" style="stroke-width:1.8"/>
<path d="M646.5 427.1L651.4 426.7L653.4 430.1L652.2 434.7L647.6 434L645.7 430.9Z" fill="#000"/>
<path class="k" d="M653 429.4L660.2 425.6"/>
<ellipse class="kf" cx="730.7" cy="412.2" rx="4.2" ry="6.6" transform="rotate(-25 730.7 412.2)" style="stroke-width:2.2"/>
<ellipse class="k" cx="730.7" cy="412.2" rx="1.8" ry="2.8" transform="rotate(-25 730.7 412.2)" style="stroke-width:1.6;fill:#000"/>
<circle cx="731" cy="412.4" r="0.7" fill="#fff"/>
<circle cx="753.4" cy="399.3" r="5.7" fill="#000" stroke="#000" stroke-width="2.8"/>
<ellipse cx="756" cy="397.7" rx="1.1" ry="2.6" fill="#fff" transform="rotate(-28 756 397.7)"/>
<ellipse cx="750.6" cy="398.7" rx="0.9" ry="1.6" fill="#fff" transform="rotate(20 750.6 398.7)"/>
<ellipse cx="754.2" cy="402.9" rx="1.4" ry="0.8" fill="#fff" transform="rotate(-30 754.2 402.9)"/>
<path class="kf" d="M667.1 479.3L704.4 499.2L702.3 503.4L665 483.5Z"/>
<ellipse class="kf" cx="702.7" cy="500.9" rx="1.6" ry="2.6" transform="rotate(-30 702.7 500.9)" style="stroke-width:2"/>
<ellipse class="kf" cx="724.3" cy="513.6" rx="1.9" ry="3.4" transform="rotate(28.2 724.3 513.6)"/>
<path class="kf" d="M722.7 516.6L728.7 519.8L731.9 513.8L726 510.6"/>
<path d="M723.1 516L729 519.2L731.6 514.4L725.6 511.2Z" fill="#fff" stroke="none"/>
<ellipse class="kf" cx="730.3" cy="516.8" rx="1.9" ry="3.4" transform="rotate(28.2 730.3 516.8)"/>
<path class="kf" d="M683.3 516.2Q681.7 515.4 683.3 514.7L686.8 513.2Q688.5 512.4 690.1 513.2L709.7 522.7Q711.4 523.5 710.2 524.8L708.3 526.8Q707.1 528.1 705.5 527.3Z" style="stroke-width:2.4"/>
<path class="k" d="M689.9 520.1L694.1 517.3" style="stroke-width:2.0"/>
<path class="k" d="M695.5 522.3L699.7 519.5" style="stroke-width:2.0"/>
<path class="k" d="M701 524.6L705.2 521.8" style="stroke-width:2.0"/>
<path class="k" d="M687.2 515.6L708.6 525" style="stroke-width:1.3"/>
<path class="kf" d="M691.6 560.2L746.2 525.9L749.8 533.1L698.6 566.5Z"/>
<path class="k" d="M694.4 563.1L748.1 529.3"/>
<path class="kf" d="M744.7 525.5L749.4 522.1L756.2 526.3L755.7 533.1L752.6 536.1Z"/>
<ellipse class="kf" cx="753.4" cy="530.2" rx="2.8" ry="4.4" transform="rotate(25 753.4 530.2)" style="stroke-width:1.6"/>
<path class="kf" d="M742.4 538L742.4 541.6L752.6 545.9L753.2 536.3"/>
<path class="kf" d="M672.6 572.7L682.1 563.8L698.4 564.2L684.6 579Z"/>
<path class="kf" d="M685.3 532.6L684.2 566.5L687.8 567.8L692.1 562.3L693.1 535.6Z"/>
<path class="k" d="M689.5 534.1L687.6 567"/>
<path class="kf" d="M678.3 527.1Q677.4 526.7 678.4 526.3L683.3 524.5Q684.2 524.1 685.1 524.5L704.1 532.6Q705 533 704.4 533.8L701.8 536.9Q701.2 537.7 700.3 537.3Z" style="stroke-width:1.6"/>
<path class="k" d="M677.9 528.4L700.8 538.7L704.6 534.7"/>
<ellipse class="kf" cx="769.1" cy="540.1" rx="3" ry="5" transform="rotate(28 769.1 540.1)" style="stroke-width:2.7"/>
<ellipse class="kf" cx="785.9" cy="550.7" rx="3" ry="5" transform="rotate(32 785.9 550.7)" style="stroke-width:2.7"/>
<ellipse class="kf" cx="573.3" cy="563.4" rx="5.9" ry="3.2" style="stroke-width:2.9"/>
<path class="kf" d="M569.9 591.3L569.9 605.6L576.3 605.6L576.3 591.3Z"/>
<path class="k" d="M569.9 593L576.3 592M569.9 595.4L576.3 594.4M569.9 597.8L576.3 596.8M569.9 600.1L576.3 599.1M569.9 602.5L576.3 601.5M569.9 604.9L576.3 603.9" style="stroke-width:1.5"/>
<path class="kf" d="M567.6 607.6Q567.6 605.6 569.6 605.6L577 605.6Q579 605.6 579 607.6L579 613.7Q579 615.7 577 615.7L569.6 615.7Q567.6 615.7 567.6 613.7Z" style="stroke-width:1.5"/>
<ellipse class="kf" cx="573.3" cy="606.8" rx="5.7" ry="1.9" style="stroke-width:1.3"/>
</g>

<!-- 80_arrow.svg -->
<defs><pattern id="hz" width="2" height="2" patternUnits="userSpaceOnUse"><rect width="2" height="2" fill="#dcdcdc"/><rect width="1" height="1" fill="#3a3a3a"/></pattern></defs>
<g fill="url(#hz)" stroke="#000" stroke-width="1.6" stroke-linejoin="miter">
<path d="M17.9 787.5L37 754.6L75.1 776.4Z"/>
<path d="M51.7 755.5L64.2 748.6L84.3 760L71.3 767.1Z"/>
<path d="M70.2 745L83.2 737.7L103.9 748.6L90.3 756.8Z"/>
<path d="M89.7 733.1L104.4 724.7L124.6 736.1L109.3 745Z"/>
</g>

<!-- 90_labels.svg -->
<g class="l">
<path d="M296.7 124.3L347.5 192.1"/>
<path d="M203.1 158.4L325.8 246.6"/>
<path d="M126.3 250.6H168.7"/>
<path d="M110.3 311.4H125.3"/>
<path d="M119.3 466.8H161.4"/>
<path d="M413.8 303V332.5"/>
<path d="M378.3 368.1H415"/>
<path d="M357.9 411.6L382 424"/>
<path d="M372 467.6H408"/>
<path d="M329.5 527.2L361.7 510.8"/>
<path d="M456.2 269.8H493.5"/>
<path d="M460.4 327V354.4"/>
<path d="M478.6 343.2V364.3"/>
<path d="M515.4 364.3V389.2"/>
<path d="M604 389.2V412.8"/>
<path d="M458 438.7L434.3 451.1"/>
<path d="M415.7 494.6H443.8"/>
<path d="M542.5 472.2L564.2 461"/>
<path d="M604 477.2V500.8"/>
<path d="M434.3 563.8V594.1"/>
<path d="M480.3 536.9V574.2"/>
<path d="M536.3 562.3H567.4"/>
<path class="lt" d="M540 602.3H568.7"/>
<path d="M676 377.3V407.2"/>
<path d="M751.9 362.3V393.4"/>
<path d="M736.5 417.1L770.1 437"/>
<path d="M689.3 487.6L706.2 479.9"/>
<path d="M732 512.8L747.7 502.9"/>
<path d="M654.9 517.8H682"/>
<path d="M814.9 532.5L788.8 547"/>
<path d="M768.9 544V571.8"/>
<path d="M716.1 556.9V580.5"/>
<path d="M657.4 596.7V617.9"/>
<path d="M245.6 683.9H377.5"/>
<path d="M230.5 728H365.9"/>
<path d="M244.9 800.9H288"/>
<path d="M686.7 109.3L720.7 90"/>
<path class="lt" d="M603 140.3H650"/>
<path class="lt" d="M1071.7 532V570"/>
</g>
<g class="t" text-anchor="middle">
<text x="299" y="120.3">32</text>
<text x="198.8" y="151">33</text>
<text x="117.6" y="257.2">3</text>
<text x="104" y="315.7">2</text>
<text x="114" y="474.8">1</text>
<text x="413.2" y="296.8">8</text>
<text x="366" y="371.4">16</text>
<text x="352" y="416.4">7</text>
<text x="360.4" y="473.5">20</text>
<text x="315.8" y="540.1">17</text>
<text x="503" y="274.8">19</text>
<text x="459.2" y="320.8">4</text>
<text x="479" y="336.5">5</text>
<text x="515.2" y="361.3">9</text>
<text x="604.5" y="384">11</text>
<text x="468" y="438">18</text>
<text x="452.7" y="501.6">21</text>
<text x="526.4" y="483.4">15</text>
<text x="604.5" y="514.2">14</text>
<text x="434" y="607.8">23</text>
<text x="481" y="587.2">24</text>
<text x="525" y="567.3">13</text>
<text x="530.3" y="606.6">12</text>
<text x="676" y="374.3">22</text>
<text x="752" y="361.1">25</text>
<text x="778" y="448.2">24</text>
<text x="716.6" y="480">10</text>
<text x="753" y="502.1">9</text>
<text x="647.6" y="524">8</text>
<text x="824" y="536.5">4</text>
<text x="768.6" y="586.8">5</text>
<text x="716.4" y="595.5">6</text>
<text x="657" y="631.5">7</text>
<text x="391" y="691.3">30</text>
<text x="379.7" y="735.7">31</text>
<text x="306.2" y="805.9">27</text>
<text x="670.4" y="125">29</text>
<text x="588.5" y="147.3">26</text>
<text x="1070.7" y="592.5">28</text>
</g>

<!-- 95_logo.svg -->
<g>
<circle cx="1216.2" cy="776.9" r="50.5" fill="#80cba0"/>
<circle cx="1216.2" cy="776.9" r="44.6" fill="none" stroke="#fff" stroke-width="1.2"/>
<g font-family="'Liberation Sans',Arial,sans-serif" font-weight="bold" font-size="42">
<text transform="translate(1080.5 793.8) scale(0.84 1)" fill="#80cba0" stroke="#fff" stroke-width="4.5" paint-order="stroke" stroke-linejoin="round">АГРО</text>
<text transform="translate(1080.5 793.8) scale(0.84 1)" fill="#80cba0" stroke="#80cba0" stroke-width="1.6" stroke-linejoin="round">АГРО</text>
<text transform="translate(1188.3 793.8) scale(0.745 1)" fill="#fff" stroke="#fff" stroke-width="1.6">НКА</text>
</g>
</g>

<!-- 99_watermark.svg -->
<g transform="translate(419.8 620) rotate(-30.75) scale(1.022 1)">
<text x="0" y="0" font-family="'Liberation Sans',Arial,sans-serif" font-weight="bold" font-size="180" fill="none" stroke="#7d7d7d" stroke-width="1">nka.by</text>
</g>

</svg>
</body></html>
